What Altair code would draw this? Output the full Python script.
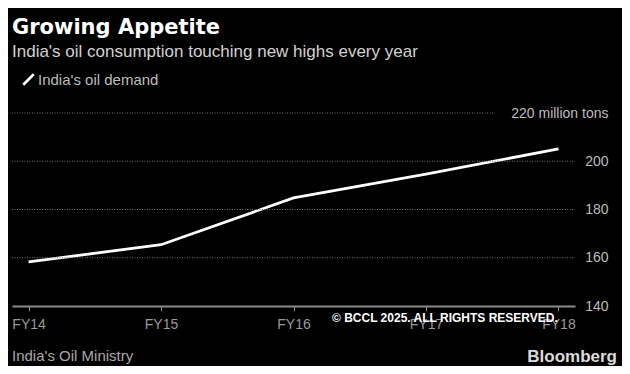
import altair as alt
import pandas as pd

# ---- data ----
years = ["FY14", "FY15", "FY16", "FY17", "FY18"]
demand = [158.3, 165.4, 184.8, 194.7, 205.1]
series_name = "India's oil demand"
y_ticks = [140, 160, 180, 200, 220]
grid_full = [160, 180, 200]
grid_top = [220]
title_text = "Growing Appetite"
subtitle_text = "India's oil consumption touching new highs every year"
source_text = "India's Oil Ministry"
brand_text = "Bloomberg"
watermark_text = "© BCCL 2025. ALL RIGHTS RESERVED."

W, H = 563, 193

df = pd.DataFrame({"year": years, "demand": demand, "series": [series_name] * len(years)})
grid_df = pd.DataFrame({"demand": grid_full})
grid_top_df = pd.DataFrame({"demand": grid_top})

FONT = "Liberation Sans"

x_enc = alt.X(
    "year:O",
    sort=years,
    scale=alt.Scale(type="point", padding=0.125),
    axis=alt.Axis(
        title=None,
        labelAngle=0,
        domainColor="#8a8a8a",
        domainWidth=2,
        tickColor="#8a8a8a",
        tickSize=5,
        tickWidth=1,
        labelColor="#9a9a9a",
        labelFont=FONT,
        labelFontSize=14,
        labelPadding=6,
        grid=False,
    ),
)

y_scale = alt.Scale(domain=[140, 220], nice=False, zero=False)
y_axis = alt.Axis(
    title=None,
    orient="right",
    values=y_ticks,
    grid=False,
    domain=False,
    ticks=False,
    tickSize=0,
    labelAlign="right",
    labelBaseline="middle",
    labelPadding=33,
    labelColor="#bdbdbd",
    labelFont=FONT,
    labelFontSize=14,
    labelExpr="datum.value == 220 ? '220 million tons' : datum.label",
)

grid_rules = alt.Chart(grid_df).mark_rule(
    color="#777777", strokeWidth=1, strokeDash=[1, 1.5]
).encode(y=alt.Y("demand:Q", scale=y_scale, axis=y_axis), x=alt.value(0), x2=alt.value(W))

grid_rule_top = alt.Chart(grid_top_df).mark_rule(
    color="#777777", strokeWidth=1, strokeDash=[1, 1.5]
).encode(y=alt.Y("demand:Q", scale=y_scale, axis=y_axis), x=alt.value(0), x2=alt.value(483))

line = alt.Chart(df).mark_line(strokeWidth=2.8, strokeCap="butt").encode(
    x=x_enc,
    y=alt.Y("demand:Q", scale=y_scale, axis=y_axis),
    color=alt.Color(
        "series:N",
        scale=alt.Scale(range=["#ffffff"]),
        legend=alt.Legend(
            title=None,
            orient="none",
            legendX=9,
            legendY=-41,
            symbolType="M-1,1L1,-1",
            symbolSize=110,
            symbolStrokeWidth=2.6,
            symbolFillColor="transparent",
            labelColor="#bdbdbd",
            labelFont=FONT,
            labelFontSize=15,
            labelOffset=2,
        ),
    ),
)

source = alt.Chart(pd.DataFrame({"t": [source_text]})).mark_text(
    align="left", baseline="alphabetic", font=FONT, fontSize=15, color="#a8a8a8"
).encode(text="t:N", x=alt.value(0), y=alt.value(248))

brand = alt.Chart(pd.DataFrame({"t": [brand_text]})).mark_text(
    align="right", baseline="alphabetic", font=FONT, fontSize=17, fontWeight="bold",
    color="#dcdcdc",
).encode(text="t:N", x=alt.value(605), y=alt.value(249))

watermark = alt.Chart(pd.DataFrame({"t": [watermark_text]})).mark_text(
    align="left", baseline="middle", font=FONT, fontSize=12, fontWeight="bold",
    color="#ffffff",
).encode(text="t:N", x=alt.value(320), y=alt.value(205))

chart = alt.layer(line, grid_rules, grid_rule_top, source, brand, watermark).properties(
    width=W,
    height=H,
    padding={"left": 4, "top": 105, "right": 47, "bottom": 60},
    autosize=alt.AutoSizeParams(type="none"),
    background="#000000",
    title=alt.Title(
        text=title_text,
        subtitle=subtitle_text,
        anchor="start",
        frame="group",
        font="DejaVu Sans",
        fontSize=21,
        fontWeight="bold",
        color="#ffffff",
        subtitleFont=FONT,
        subtitleFontSize=17,
        subtitleColor="#d2d2d2",
        subtitlePadding=6,
        offset=12,
    ),
).configure_view(stroke=None)

chart.save("out.html", embed_options={"renderer": "svg", "actions": False})
